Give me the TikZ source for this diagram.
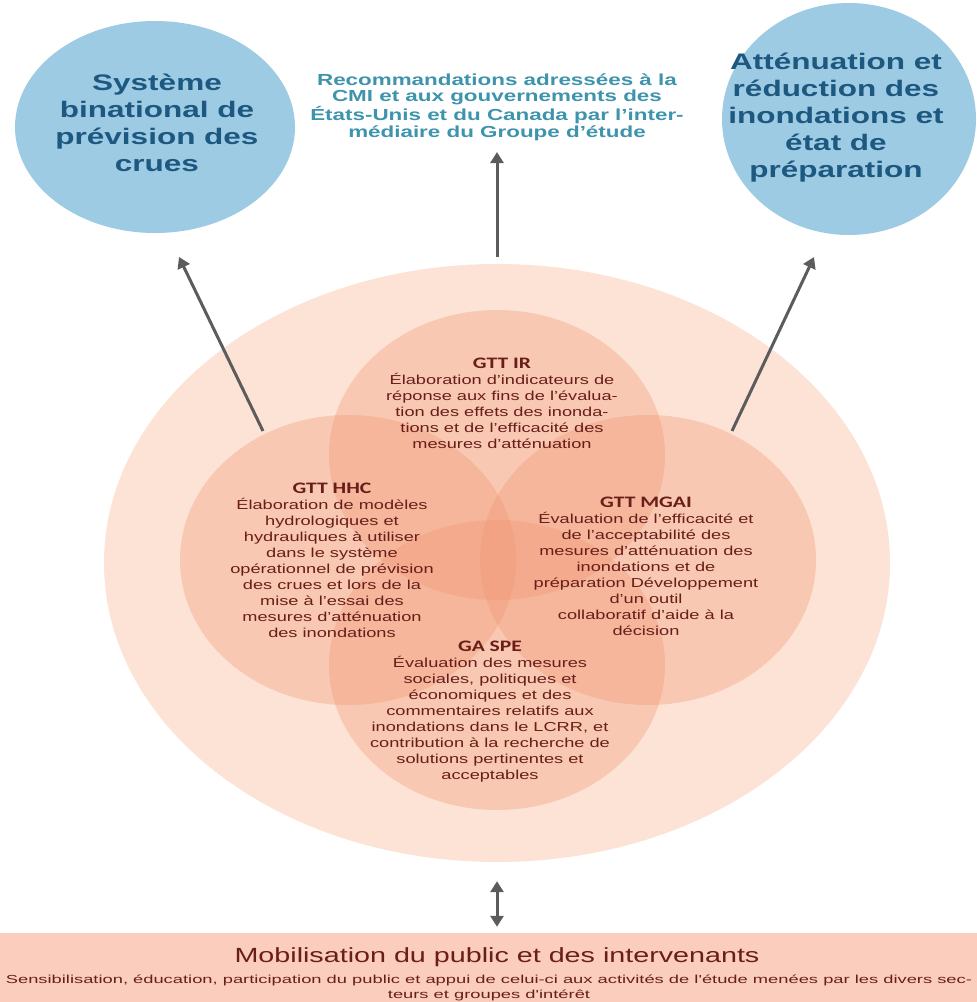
\documentclass[tikz,border=0pt]{standalone}
\usepackage{fontspec}
\setmainfont[FakeStretch=1.4]{Liberation Sans}
\newfontfamily\teamfont[FakeStretch=1.35]{Carlito}
\newfontfamily\widefont[FakeStretch=1.58]{Liberation Sans}
\usetikzlibrary{shapes.geometric,arrows.meta}

\definecolor{goalblue}{RGB}{158,203,228}
\definecolor{goalink}{RGB}{28,88,128}
\definecolor{recink}{RGB}{62,148,172}
\definecolor{peach}{RGB}{252,227,213}
\definecolor{salmon}{RGB}{242,150,115}
\definecolor{teamink}{RGB}{105,30,25}
\definecolor{arrgray}{RGB}{92,92,92}
\definecolor{boxfill}{RGB}{251,205,188}

\tikzstyle{goal} = [ellipse,fill=goalblue,inner sep=0pt]
\tikzstyle{goaltext} = [align=center,text=goalink,font=\fontsize{22.5}{27}\selectfont\bfseries]
\tikzstyle{rectext} = [align=center,text=recink,font=\fontsize{16}{16.7}\selectfont\bfseries]
\tikzstyle{team} = [ellipse,fill=salmon,fill opacity=0.35,inner sep=0pt,minimum width=336pt,minimum height=290pt]
\tikzstyle{teamtext} = [align=center,text=teamink,font=\fontsize{13}{16}\selectfont]
\tikzstyle{arr} = [draw=arrgray,line width=3pt,-{Triangle[width=13pt,length=11pt]}]
\newcommand{\teamname}[1]{{\teamfont\bfseries\fontsize{16}{17}\selectfont #1}}

\begin{document}
\begin{tikzpicture}[x=1pt,y=-1pt]
	\useasboundingbox (0,0) rectangle (977,1002);
	\fill[white] (0,0) rectangle (977,1002);

	% objectifs
	\node[goal,minimum width=280pt,minimum height=212pt] (g1) at (155,127) {};
	\node[goal,minimum width=254pt,minimum height=232pt] (g2) at (849,119) {};
	\node[goaltext] (l1) at (157,123) {Système\\binational de\\prévision des\\crues};
	\node[goaltext] (l2) at (836,118) {Atténuation et\\réduction des\\inondations et\\état de\\préparation};
	\node[rectext] (r1) at (497,107) {Recommandations adressées à la\\CMI et aux gouvernements des\\États-Unis et du Canada par l'inter-\\médiaire du Groupe d'étude};

	% groupes
	\node[ellipse,fill=peach,inner sep=0pt,minimum width=786pt,minimum height=598pt] (o1) at (497,563) {};
	\node[team] (n1) at (497,455) {};
	\node[team] (n2) at (348,560) {};
	\node[team] (n3) at (648,560) {};
	\node[team] (n4) at (497,665) {};

	\node[teamtext] (m1) at (502,403) {\teamname{GTT IR}\\Élaboration d'indicateurs de\\réponse aux fins de l'évalua-\\tion des effets des inonda-\\tions et de l'efficacité des\\mesures d'atténuation};
	\node[teamtext] (m2) at (332,560) {\teamname{GTT HHC}\\Élaboration de modèles\\hydrologiques et\\hydrauliques à utiliser\\dans le système\\opérationnel de prévision\\des crues et lors de la\\mise à l'essai des\\mesures d'atténuation\\des inondations};
	\node[teamtext] (m3) at (646,566) {\teamname{GTT MGAI}\\Évaluation de l'efficacité et\\de l'acceptabilité des\\mesures d'atténuation des\\inondations et de\\préparation Développement\\d'un outil\\collaboratif d'aide à la\\décision};
	\node[teamtext] (m4) at (490,712) {\teamname{GA SPE}\\Évaluation des mesures\\sociales, politiques et\\économiques et des\\commentaires relatifs aux\\inondations dans le LCRR, et\\contribution à la recherche de\\solutions pertinentes et\\acceptables};

	% public
	\node[rectangle,fill=boxfill,inner sep=0pt,minimum width=977pt,minimum height=69pt] (b1) at (488.5,967.5) {};
	\node[text=teamink,font=\fontsize{20.5}{22}\selectfont] (p1) at (497,957) {Mobilisation du public et des intervenants};
	\node[align=center,text=teamink,font=\widefont\fontsize{11.6}{14.5}\selectfont] (p2) at (489,988) {Sensibilisation, éducation, participation du public et appui de celui-ci aux activités de l'étude menées par les divers sec-\\teurs et groupes d'intérêt};

	% fleches
	\coordinate (a1) at (263,431);
	\coordinate (a2) at (179,257);
	\coordinate (a3) at (732,431);
	\coordinate (a4) at (814,257);
	\draw[arr] (a1) -- (a2);
	\draw[arr] (a3) -- (a4);
	\draw[arr,shorten <=7pt,shorten >=8pt] (o1.north) -- (o1.north |- r1.south);
	\draw[arr,{Triangle[width=13pt,length=11pt]}-{Triangle[width=13pt,length=11pt]},shorten <=19pt,shorten >=6pt] (o1.south) -- (o1.south |- b1.north);
\end{tikzpicture}
\end{document}
